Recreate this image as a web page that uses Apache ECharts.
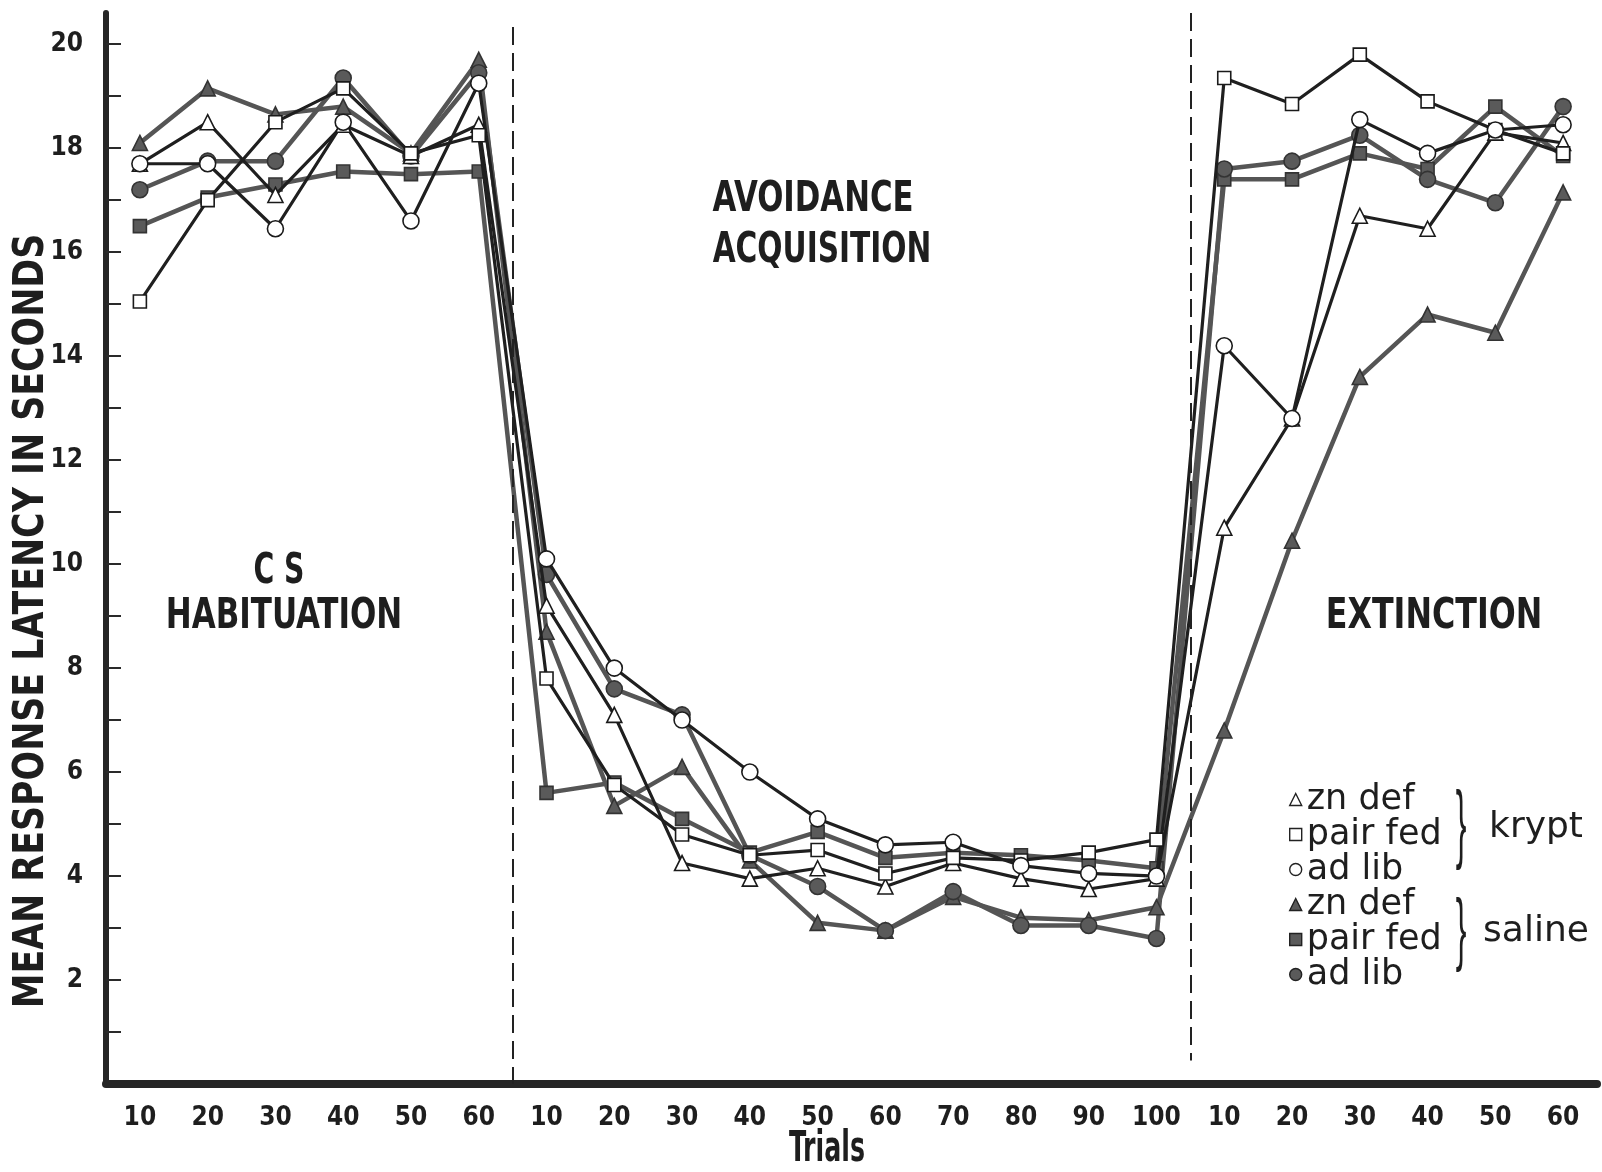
<!DOCTYPE html>
<html>
<head>
<meta charset="utf-8">
<script src="https://cdn.jsdelivr.net/npm/echarts@6/dist/echarts.min.js"></script>
<style>
html,body{margin:0;padding:0;background:#ffffff;}
#chart{width:1602px;height:1172px;}
</style>
</head>
<body>
<div id="chart"></div>
<script>
// ---- data ----
const trials = ['10','20','30','40','50','60',
                '10','20','30','40','50','60','70','80','90','100',
                '10','20','30','40','50','60'];
const yTickValues  = [1,2,3,4,5,6,7,8,9,10,11,12,13,14,15,16,17,18,19,20];
const yLabelValues = [2,4,6,8,10,12,14,16,18,20];

const kryptZnDef    = [17.7,18.5,17.1,18.45,17.85,18.45, 9.2,7.1,4.25,3.95,4.15,3.8,4.25,3.95,3.75,3.95, 10.7,12.8,16.7,16.45,18.3,18.1];
const kryptPairFed  = [15.05,17.0,18.5,19.15,17.9,18.25, 7.8,5.75,4.8,4.4,4.5,4.05,4.35,4.3,4.45,4.7, 19.35,18.85,19.8,18.9,18.35,17.9];
const kryptAdLib    = [17.7,17.7,16.45,18.5,16.6,19.25, 10.1,8.0,7.0,6.0,5.1,4.6,4.65,4.2,4.05,4.0, 14.2,12.8,18.55,17.9,18.35,18.45];
const salineZnDef   = [18.1,19.15,18.65,18.8,17.9,19.7, 8.7,5.35,6.1,4.3,3.1,2.95,3.6,3.2,3.15,3.4, 6.8,10.45,13.6,14.8,14.45,17.15];
const salinePairFed = [16.5,17.05,17.3,17.55,17.5,17.55, 5.6,5.8,5.1,4.45,4.85,4.35,4.45,4.4,4.3,4.15, 17.4,17.4,17.9,17.6,18.8,17.85];
const salineAdLib   = [17.2,17.75,17.75,19.35,17.85,19.45, 9.8,7.6,7.1,4.4,3.8,2.95,3.7,3.05,3.05,2.8, 17.6,17.75,18.25,17.4,16.95,18.8];

const groupNames = ['krypt','saline'];
const itemNames  = ['zn def','pair fed','ad lib'];

// phase dividers (category boundaries on a 0..22 scale)
const dividerAt     = [6, 16];
const dividerTop    = [20.33, 20.6];
const dividerBottom = [0, 0.45];

// ---- styling ----
const narrow = "'Liberation Sans Narrow','DejaVu Sans Condensed',sans-serif";
const ink = '#1e1e1e';
const symbols = ['triangle','rect','circle'];
const symbolSizes = [15, 13, 16];

const seriesData = [
  [kryptZnDef, kryptPairFed, kryptAdLib],
  [salineZnDef, salinePairFed, salineAdLib]
];
const groupStyle = [
  {fill:'#ffffff', border:'#1a1a1a', line:'#1f1f1f', width:3.2},
  {fill:'#5a5a5a', border:'#333333', line:'#555555', width:4.5}
];

const fullName = (g, i) => itemNames[i] + ' \u00b7 ' + groupNames[g];

const series = [];
const legendData = [];
// saline drawn first, krypt on top
[1, 0].forEach(g => {
  itemNames.forEach((nm, i) => {
    const st = groupStyle[g];
    series.push({
      name: fullName(g, i),
      type: 'line',
      data: seriesData[g][i],
      symbol: symbols[i],
      symbolSize: symbolSizes[i],
      showSymbol: true,
      showAllSymbol: true,
      lineStyle: {color: st.line, width: st.width},
      itemStyle: {color: st.fill, borderColor: st.border, borderWidth: 1.6},
      emphasis: {disabled: true},
      z: g === 0 ? 4 : 3
    });
  });
});
[0, 1].forEach(g => {
  itemNames.forEach((nm, i) => {
    const st = groupStyle[g];
    legendData.push({
      name: fullName(g, i),
      icon: symbols[i],
      itemStyle: {color: st.fill, borderColor: '#222222', borderWidth: 1.4}
    });
  });
});

series.push({
  type: 'line',
  xAxisIndex: 1,
  yAxisIndex: 0,
  data: [],
  silent: true,
  markLine: {
    symbol: ['none','none'],
    silent: true,
    animation: false,
    label: {show: false},
    lineStyle: {type: [18, 8], color: '#222222', width: 2},
    emphasis: {disabled: true},
    data: dividerAt.map((x, k) => [{coord: [x, dividerTop[k]]}, {coord: [x, dividerBottom[k]]}])
  }
});

const txt = (text, x, y, size, sx, extra) => Object.assign({
  type: 'text', x: x, y: y, z: 50, silent: true, scaleX: sx,
  style: {text: text, x: 0, y: 0, fill: ink, fontFamily: narrow, fontWeight: 'bold',
          fontSize: size, align: 'center', verticalAlign: 'middle'}
}, extra || {});

const brace = (x, y, sy) => ({
  type: 'text', x: x, y: y, scaleY: sy, z: 50, silent: true,
  style: {text: '}', x: 0, y: 0, fill: ink, fontFamily: "'Liberation Sans',sans-serif",
          fontSize: 32, align: 'center', verticalAlign: 'middle'}
});
const groupLabel = (text, x, y) => ({
  type: 'text', x: x, y: y, z: 50, silent: true,
  style: {text: text, x: 0, y: 0, fill: ink, fontFamily: "'DejaVu Sans',sans-serif",
          fontSize: 36, align: 'center', verticalAlign: 'middle'}
});

const chart = echarts.init(document.getElementById('chart'), null, {renderer: 'canvas'});
chart.setOption({
  animation: false,
  backgroundColor: '#ffffff',
  grid: {left: 106, right: 5, top: 13, bottom: 88, containLabel: false},
  xAxis: [{
    type: 'category',
    data: trials,
    boundaryGap: true,
    axisLine: {lineStyle: {color: '#262626', width: 8}},
    axisTick: {show: false},
    axisLabel: {interval: 0, margin: 21, color: ink, fontFamily: narrow, fontWeight: 'bold', fontSize: 26},
    splitLine: {show: false}
  }, {
    type: 'value', min: 0, max: 22, show: false
  }],
  yAxis: {
    type: 'value',
    min: 0, max: 20.6,
    offset: 3,
    axisLine: {show: true, lineStyle: {color: '#262626', width: 6}},
    axisTick: {show: true, inside: true, length: 15, lineStyle: {color: '#2a2a2a', width: 2}, customValues: yTickValues},
    axisLabel: {margin: 20, color: ink, fontFamily: narrow, fontWeight: 'bold', fontSize: 26, customValues: yLabelValues},
    splitLine: {show: false}
  },
  legend: {
    orient: 'vertical',
    left: 1289, top: 782,
    padding: 0,
    itemWidth: 12, itemHeight: 12, itemGap: 0,
    selectedMode: false,
    data: legendData,
    formatter: name => name.split(' \u00b7 ')[0],
    textStyle: {fontFamily: "'DejaVu Sans',sans-serif", fontSize: 35, lineHeight: 33, color: ink}
  },
  graphic: [
    txt('MEAN RESPONSE LATENCY IN SECONDS', 32, 621, 43, 0.9, {rotation: Math.PI / 2}),
    txt('Trials', 827, 1150, 42, 0.67),
    txt('C S', 279, 572, 42, 0.75),
    txt('HABITUATION', 284, 617, 42, 0.82),
    txt('AVOIDANCE', 813, 200, 42, 0.815),
    txt('ACQUISITION', 822, 251, 42, 0.785),
    txt('EXTINCTION', 1434, 617, 42, 0.84),
    brace(1461, 828, 2.7),
    brace(1461, 933, 2.5),
    groupLabel(groupNames[0], 1536, 828),
    groupLabel(groupNames[1], 1536, 932)
  ],
  series: series
});
</script>
</body>
</html>
